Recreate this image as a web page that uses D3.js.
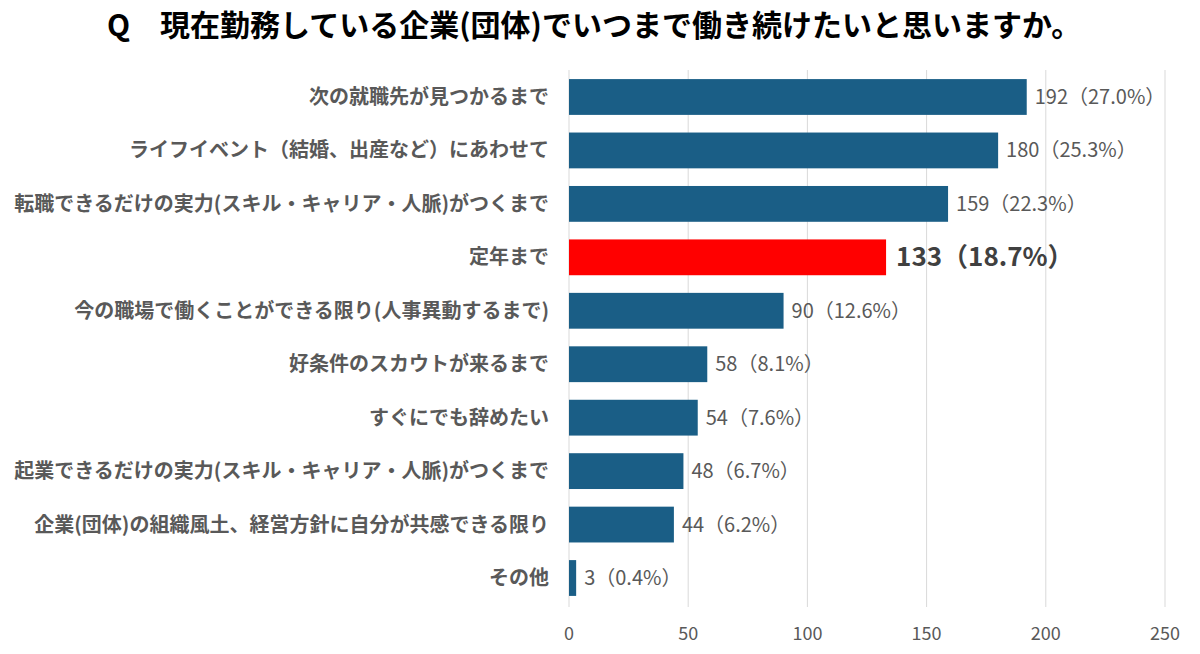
<!DOCTYPE html>
<html><head><meta charset="utf-8">
<script src="https://cdn.jsdelivr.net/npm/d3@7"></script>
<style>body{margin:0;background:#fff}</style>
</head><body>
<script>
var categories = ["次の就職先が見つかるまで","ライフイベント（結婚、出産など）にあわせて","転職できるだけの実力(スキル・キャリア・人脈)がつくまで","定年まで","今の職場で働くことができる限り(人事異動するまで)","好条件のスカウトが来るまで","すぐにでも辞めたい","起業できるだけの実力(スキル・キャリア・人脈)がつくまで","企業(団体)の組織風土、経営方針に自分が共感できる限り","その他"];
var counts = [192,180,159,133,90,58,54,48,44,3];
var percents = ["27.0%","25.3%","22.3%","18.7%","12.6%","8.1%","7.6%","6.7%","6.2%","0.4%"];
var ticks = [0,50,100,150,200,250];
var highlight = "定年まで";

var w = 1200, h = 654;
var font = "'Noto Sans CJK JP', 'Noto Sans', sans-serif";
var svg = d3.select("body").append("svg").attr("width", w).attr("height", h);

var x = d3.scaleLinear().domain([0, 250]).range([569, 1165]);
var y = d3.scaleBand().domain(categories).range([70, 605]).paddingInner(0.33).paddingOuter(0.17);

// gridlines
svg.selectAll("line.grid").data(ticks).enter().append("line")
    .attr("x1", function(d){ return x(d); }).attr("x2", function(d){ return x(d); })
    .attr("y1", 70).attr("y2", 607)
    .attr("stroke", "#d9d9d9").attr("stroke-width", 1);

// tick labels
svg.selectAll("text.tick").data(ticks).enter().append("text")
    .attr("x", function(d){ return x(d); }).attr("y", 640)
    .attr("text-anchor", "middle").attr("font-family", font)
    .attr("font-size", "18px").attr("fill", "#595959")
    .text(function(d){ return d; });

// bars
svg.selectAll("rect").data(categories).enter().append("rect")
    .attr("x", x(0))
    .attr("y", function(d){ return y(d); })
    .attr("width", function(d, i){ return x(counts[i]) - x(0); })
    .attr("height", y.bandwidth())
    .attr("fill", function(d){ return d === highlight ? "#ff0000" : "#1a5e86"; });

// category labels
svg.selectAll("text.cat").data(categories).enter().append("text")
    .attr("x", 549).attr("y", function(d){ return y(d) + y.bandwidth()/2; })
    .attr("dy", "0.35em").attr("text-anchor", "end")
    .attr("font-family", font).attr("font-size", "20px").attr("font-weight", "bold")
    .attr("fill", "#595959")
    .text(function(d){ return d; });

// value labels
svg.selectAll("text.val").data(categories).enter().append("text")
    .attr("x", function(d, i){ return x(counts[i]) + (d === highlight ? 10 : 8); })
    .attr("y", function(d){ return y(d) + y.bandwidth()/2; })
    .attr("dy", "0.35em")
    .attr("font-family", font)
    .attr("font-size", function(d){ return d === highlight ? "26px" : "20px"; })
    .attr("font-weight", function(d){ return d === highlight ? "bold" : "normal"; })
    .attr("fill", function(d){ return d === highlight ? "#404040" : "#595959"; })
    .text(function(d, i){ return counts[i] + "（" + percents[i] + "）"; });

// title
svg.append("text")
    .attr("x", 107).attr("y", 36)
    .attr("font-family", font).attr("font-size", "30px").attr("font-weight", "bold")
    .attr("fill", "#000")
    .text("Q　現在勤務している企業(団体)でいつまで働き続けたいと思いますか。");
</script>
</body></html>
